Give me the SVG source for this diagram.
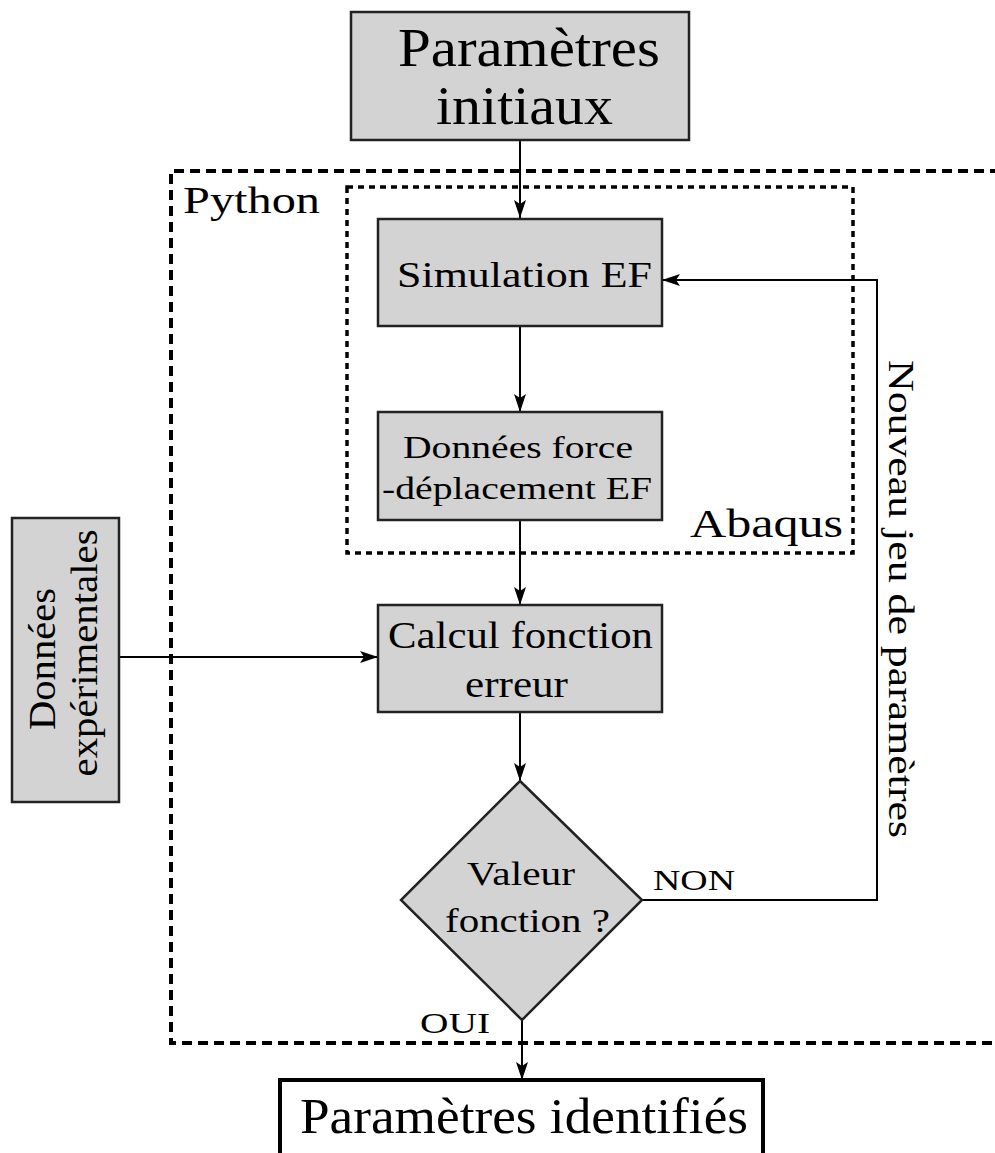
<svg xmlns="http://www.w3.org/2000/svg" width="995" height="1153" viewBox="0 0 995 1153">
<style>
.box{fill:#d3d3d3;stroke:#222;stroke-width:2.5}
.t{font-family:"Liberation Serif","DejaVu Serif",serif;fill:#000;text-anchor:middle}
.c{fill:none;stroke:#000;stroke-width:2}
</style>
<defs>
<marker id="ah" markerWidth="20" markerHeight="12" refX="18" refY="6" orient="auto" markerUnits="userSpaceOnUse">
<path d="M0,0 L18,6 L0,12 L4,6 Z" fill="#000"/>
</marker>
</defs>
<rect width="995" height="1153" fill="#fff"/>
<g id="python">
<path d="M1000,171 L171,171 L171,1043 L1000,1043" fill="none" stroke="#000" stroke-width="4" stroke-dasharray="10,6"/>
<text class="t" x="251.5" y="213" font-size="37" textLength="137" lengthAdjust="spacingAndGlyphs">Python</text>
</g>
<g id="abaqus">
<rect x="347" y="187" width="506" height="366" fill="none" stroke="#000" stroke-width="3.5" stroke-dasharray="6,5"/>
<text class="t" x="766.5" y="537" font-size="41" textLength="153" lengthAdjust="spacingAndGlyphs">Abaqus</text>
</g>
<g id="connectors">
<line class="c" x1="520" y1="140" x2="520" y2="218" marker-end="url(#ah)"/>
<line class="c" x1="520" y1="326" x2="520" y2="412" marker-end="url(#ah)"/>
<line class="c" x1="520" y1="520" x2="520" y2="605" marker-end="url(#ah)"/>
<line class="c" x1="520" y1="712" x2="520" y2="781" marker-end="url(#ah)"/>
<line class="c" x1="522" y1="1020" x2="522" y2="1080" marker-end="url(#ah)"/>
<line class="c" x1="119" y1="657" x2="378" y2="657" marker-end="url(#ah)"/>
<polyline class="c" points="643,900 877,900 877,280 662,280" marker-end="url(#ah)"/>
<text class="t" x="694" y="890" font-size="29" textLength="82" lengthAdjust="spacingAndGlyphs">NON</text>
<text class="t" x="455" y="1033" font-size="29" textLength="70" lengthAdjust="spacingAndGlyphs">OUI</text>
<text class="t" font-size="35" textLength="478" lengthAdjust="spacingAndGlyphs" transform="translate(889,599) rotate(90)">Nouveau jeu de paramètres</text>
</g>
<g id="n-init">
<rect class="box" x="351" y="12" width="338" height="128"/>
<text class="t" x="529" y="66" font-size="55" textLength="262" lengthAdjust="spacingAndGlyphs">Paramètres</text>
<text class="t" x="524.5" y="124" font-size="55" textLength="177" lengthAdjust="spacingAndGlyphs">initiaux</text>
</g>
<g id="n-sim">
<rect class="box" x="378" y="219" width="284" height="107"/>
<text class="t" x="524.5" y="287" font-size="35" textLength="255" lengthAdjust="spacingAndGlyphs">Simulation EF</text>
</g>
<g id="n-donnees">
<rect class="box" x="378" y="412" width="284" height="108"/>
<text class="t" x="518" y="458" font-size="32" textLength="230" lengthAdjust="spacingAndGlyphs">Données force</text>
<text class="t" x="517" y="499" font-size="32" textLength="270" lengthAdjust="spacingAndGlyphs">-déplacement EF</text>
</g>
<g id="n-calcul">
<rect class="box" x="378" y="605" width="284" height="107"/>
<text class="t" x="520.5" y="648" font-size="37" textLength="265" lengthAdjust="spacingAndGlyphs">Calcul fonction</text>
<text class="t" x="516.5" y="697" font-size="37" textLength="103" lengthAdjust="spacingAndGlyphs">erreur</text>
</g>
<g id="n-valeur">
<polygon class="box" points="520,781 642,900 522,1020 401,900"/>
<text class="t" x="521" y="885" font-size="33" textLength="108" lengthAdjust="spacingAndGlyphs">Valeur</text>
<text class="t" x="527.5" y="932" font-size="33" textLength="165" lengthAdjust="spacingAndGlyphs">fonction ?</text>
</g>
<g id="n-exp">
<rect class="box" x="12" y="518" width="107" height="284"/>
<text class="t" font-size="37" textLength="142" lengthAdjust="spacingAndGlyphs" transform="translate(55,659) rotate(-90)">Données</text>
<text class="t" font-size="37" textLength="247" lengthAdjust="spacingAndGlyphs" transform="translate(97,653) rotate(-90)">expérimentales</text>
</g>
<g id="n-ident">
<rect x="280" y="1080" width="483" height="100" fill="#fff" stroke="#000" stroke-width="4"/>
<text class="t" x="524" y="1133" font-size="50" textLength="448" lengthAdjust="spacingAndGlyphs">Paramètres identifiés</text>
</g>
</svg>
